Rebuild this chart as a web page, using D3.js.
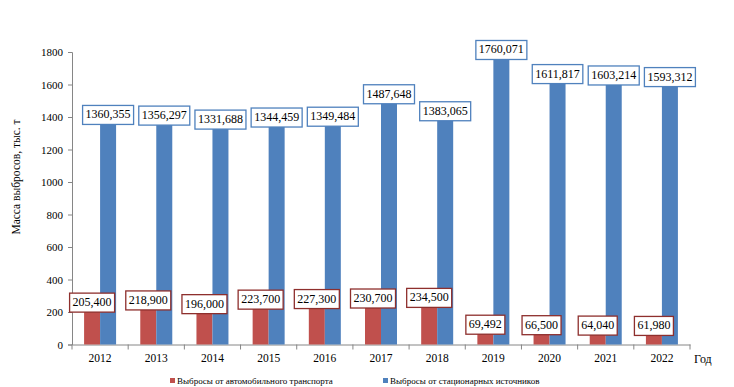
<!DOCTYPE html>
<html>
<head>
<meta charset="utf-8">
<script src="https://cdn.jsdelivr.net/npm/d3@7"></script>
<style>
  body { margin: 0; background: #fff; }
  text { font-family: "Liberation Serif", "Times New Roman", serif; fill: #000; }
</style>
</head>
<body>
<script>
var years = ["2012", "2013", "2014", "2015", "2016", "2017", "2018", "2019", "2020", "2021", "2022"];
// Выбросы от автомобильного транспорта, тыс. т
var transport = [205.400, 218.900, 196.000, 223.700, 227.300, 230.700, 234.500, 69.492, 66.500, 64.040, 61.980];
// Выбросы от стационарных источников, тыс. т
var stationary = [1360.355, 1356.297, 1331.688, 1344.459, 1349.484, 1487.648, 1383.065, 1760.071, 1611.817, 1603.214, 1593.312];
var yTicks = [0, 200, 400, 600, 800, 1000, 1200, 1400, 1600, 1800];
var seriesNames = ["Выбросы от автомобильного транспорта", "Выбросы от стационарных источников"];

var w = 734, h = 387;
var colors = ["#C0504D", "#4F81BD"];
var borders = ["#8E2F2D", "#4F81BD"];

var svg = d3.select("body").append("svg")
    .attr("width", w)
    .attr("height", h);

var x = d3.scaleBand()
    .domain(years)
    .range([72, 690]);

var y = d3.scaleLinear()
    .domain([0, 1800])
    .range([344.5, 52]);

var fmt = d3.formatLocale({ decimal: ",", thousands: " ", grouping: [3], currency: ["", ""] }).format(".3f");

// Y axis
var yAxis = svg.append("g")
    .attr("transform", "translate(72,0)")
    .call(d3.axisLeft(y).tickValues(yTicks).tickFormat(d3.format("d")).tickSize(4).tickPadding(5));
yAxis.selectAll("text").style("font-size", "11px");

// X axis
var xAxis = svg.append("g")
    .attr("transform", "translate(0," + y(0) + ")")
    .call(d3.axisBottom(x).tickSize(0).tickPadding(9));
xAxis.selectAll("text").style("font-size", "11.5px");

// ticks between categories
svg.append("g").selectAll("line")
    .data(d3.range(years.length + 1))
    .enter().append("line")
    .attr("x1", d => 72 + d * x.step())
    .attr("x2", d => 72 + d * x.step())
    .attr("y1", y(0))
    .attr("y2", y(0) + 5)
    .attr("stroke", "#868686");

svg.selectAll(".domain").attr("stroke", "#868686");
svg.selectAll(".tick line").attr("stroke", "#868686");

svg.append("text")
    .attr("x", 694)
    .attr("y", y(0) + 18)
    .style("font-size", "12px")
    .text("Год");

svg.append("text")
    .attr("transform", "translate(20,177) rotate(-90)")
    .attr("text-anchor", "middle")
    .style("font-size", "11.5px")
    .text("Масса выбросов, тыс. т");

var barW = 16;
var series = [transport, stationary];

series.forEach(function(values, si) {
    var g = svg.append("g");
    g.selectAll("rect")
        .data(values)
        .enter().append("rect")
        .attr("x", (d, i) => x(years[i]) + x.bandwidth() / 2 - barW + si * barW)
        .attr("y", d => y(d))
        .attr("width", barW)
        .attr("height", d => y(0) - y(d))
        .attr("fill", colors[si]);
});

// value labels in boxes
series.forEach(function(values, si) {
    values.forEach(function(v, i) {
        var cx = x(years[i]) + x.bandwidth() / 2 - barW / 2 + si * barW;
        var lg = svg.append("g");
        var t = lg.append("text")
            .attr("x", cx)
            .attr("y", y(v) - 5)
            .attr("text-anchor", "middle")
            .style("font-size", "12px")
            .text(fmt(v));
        var bb = t.node().getBBox();
        lg.insert("rect", "text")
            .attr("x", cx - bb.width / 2 - 3)
            .attr("y", y(v) - 18)
            .attr("width", bb.width + 6)
            .attr("height", 19)
            .attr("fill", "#fff")
            .attr("stroke", borders[si])
            .attr("stroke-width", 1.3);
    });
});

// legend at the bottom edge
var legendX = [170, 383];
seriesNames.forEach(function(name, si) {
    svg.append("rect")
        .attr("x", legendX[si])
        .attr("y", 378)
        .attr("width", 5)
        .attr("height", 5)
        .attr("fill", colors[si]);
    svg.append("text")
        .attr("x", legendX[si] + 7)
        .attr("y", 384)
        .style("font-size", "9px")
        .text(name);
});
</script>
</body>
</html>
